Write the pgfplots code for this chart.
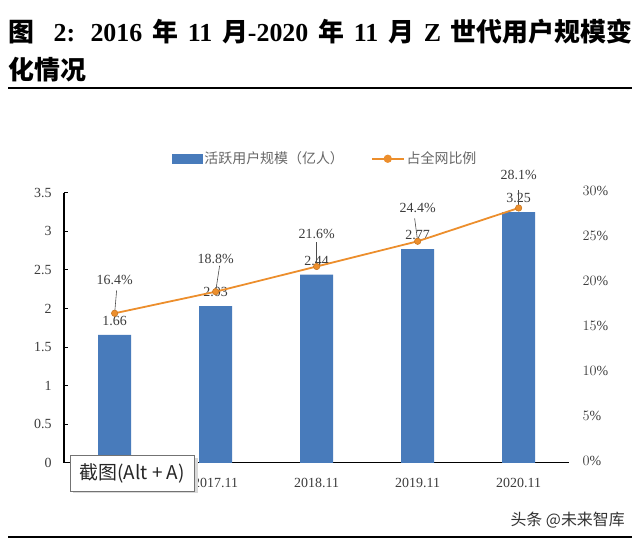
\documentclass[border=0pt]{standalone}
\usepackage{fontspec}
\setmainfont{Liberation Serif}
\newfontfamily\cjk{Noto Sans CJK SC}
\usepackage{pgfplots}
\pgfplotsset{compat=1.18}

\definecolor{barblue}{RGB}{72,123,187}
\definecolor{lineorange}{RGB}{236,142,44}
\definecolor{txt}{RGB}{60,60,60}

\begin{document}
\begin{tikzpicture}[x=1bp,y=1bp]
\path[use as bounding box] (0,0) rectangle (640,550);

% title and rules
\node[anchor=west, inner sep=0, font=\fontsize{26}{30}\selectfont\bfseries] at (8,518)
  {\makebox[624bp][s]{{\cjk 图}\ \ 2: 2016 {\cjk 年} 11 {\cjk 月}-2020 {\cjk 年} 11 {\cjk 月} Z {\cjk 世代用户规模变}}};
\node[anchor=west, inner sep=0, font=\cjk\fontsize{26}{30}\selectfont\bfseries] at (8,480) {化情况};
\draw[line width=1.5bp] (8,462) -- (632,462);
\draw[line width=1.5bp] (8,13) -- (632,13);
\node[anchor=east, inner sep=0, font=\cjk\fontsize{16}{18}\selectfont, text=black!80] at (625,30) {头条 @未来智库};

\begin{axis}[
    at={(113.5,113)}, anchor=origin,
    scale only axis, width=505bp, height=270bp,
    xmin=-0.5, xmax=4.5, ymin=0, ymax=3.5,
    axis x line*=bottom, axis y line*=left,
    axis line style={line width=1.3bp, black},
    xtick={0,1,2,3,4},
    xticklabels={2016.11,2017.11,2018.11,2019.11,2020.11},
    x tick label style={font=\fontsize{14}{16}\selectfont, text=txt, yshift=-12bp},
    ytick={0,0.5,...,3.5},
    y tick label style={font=\fontsize{14}{16}\selectfont, text=txt, xshift=-9bp},
    /pgf/number format/assume math mode=true,
    tick align=inside,
    major tick length=4bp,
    x tick style={draw=none},
    y tick style={black, line width=1bp},
]
\addplot[ybar, bar width=33bp, fill=barblue, draw=none,
    nodes near coords={\pgfmathprintnumber[fixed,precision=2]{\pgfplotspointmeta}},
    nodes near coords style={anchor=center, yshift=14bp, font=\fontsize{14}{16}\selectfont, text=txt}]
  coordinates {(0,1.66) (1,2.03) (2,2.44) (3,2.77) (4,3.25)};
\end{axis}

\begin{axis}[
    at={(113.5,99)}, anchor=origin,
    scale only axis, width=505bp, height=270bp,
    xmin=-0.5, xmax=4.5, ymin=0, ymax=0.3,
    axis x line=none, axis y line*=right,
    y axis line style={draw=none},
    ytick={0,0.05,...,0.3},
    yticklabel={\pgfmathparse{\tick*100}\pgfmathprintnumber[fixed,precision=0]{\pgfmathresult}\%},
    y tick label style={font=\fontsize{14}{16}\selectfont, text=txt, xshift=10bp},
    major tick length=0pt,
    legend columns=2,
    legend style={draw=none, fill=none, at={(0.517,1.119)}, anchor=center,
        font=\cjk\fontsize{14}{16}\selectfont, text=black!60,
        /tikz/every even column/.append style={column sep=25bp}},
]
\addlegendimage{legend image code/.code={\fill[barblue] (0bp,-4.5bp) rectangle (30bp,4.5bp);}}
\addlegendentry{活跃用户规模（亿人）}
\addplot[color=lineorange, line width=1.8bp, mark=*, mark size=3.2bp,
    mark options={fill=lineorange, draw=lineorange!85!black, line width=0.6bp},
    point meta=explicit symbolic,
    nodes near coords,
    nodes near coords style={anchor=center, yshift=33bp, font=\fontsize{14}{16}\selectfont, text=txt},
    legend image code/.code={\draw[lineorange, line width=1.8bp] (0bp,0bp) -- (32bp,0bp);
        \fill[lineorange] (16bp,0bp) circle (3.2bp);}]
  coordinates {(0,0.164) [16.4\%] (1,0.188) [18.8\%] (2,0.216) [21.6\%] (3,0.244) [24.4\%] (4,0.281) [28.1\%]};
\addlegendentry{占全网比例}
\draw[black!70, line width=0.6bp] (axis cs:0,0.164) -- ++(2bp,23bp);
\draw[black!70, line width=0.6bp] (axis cs:1,0.188) -- ++(4bp,26bp);
\draw[black!70, line width=0.6bp] (axis cs:2,0.216) -- ++(0bp,24bp);
\draw[black!70, line width=0.6bp] (axis cs:3,0.244) -- ++(-3bp,23bp);
\draw[black!70, line width=0.6bp] (axis cs:4,0.281) -- ++(0bp,26bp);
\end{axis}

% screenshot tooltip overlay
\fill[black!15] (73,57) rectangle (198,92);
\node[draw=black!55, fill=white, anchor=north west, minimum width=124bp, minimum height=36bp,
      inner sep=0, font=\cjk\fontsize{19}{21}\selectfont, text=black!85] at (70,95) {截图(Alt + A)};
\end{tikzpicture}
\end{document}
